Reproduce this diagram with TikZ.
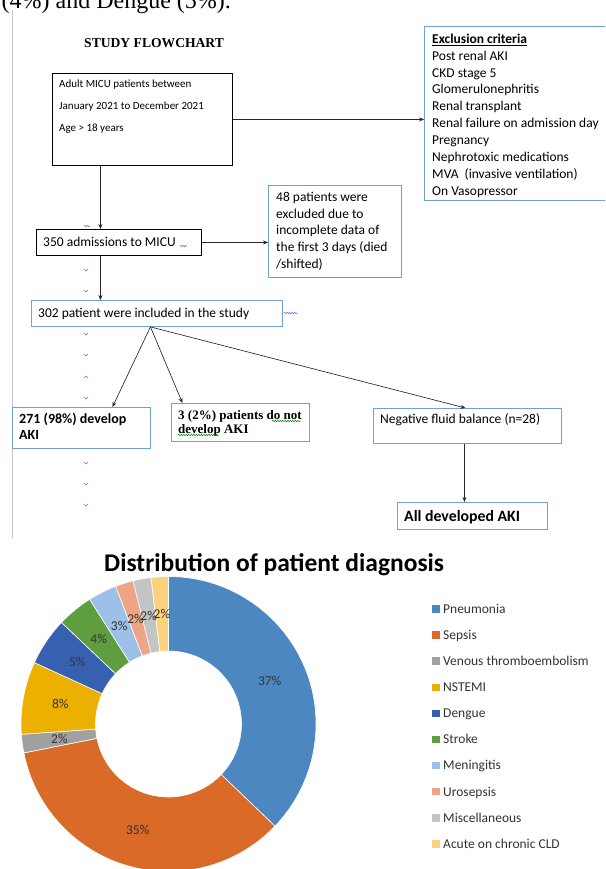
\documentclass[tikz,border=0pt]{standalone}
\usepackage{fontspec}
\setmainfont{Carlito}
\newfontfamily\tnr{Liberation Serif}
\usetikzlibrary{arrows.meta,decorations.pathmorphing}
\definecolor{boxblue}{HTML}{6FA0D8}
\definecolor{cPn}{HTML}{4D87C2}
\definecolor{cSe}{HTML}{D96A28}
\definecolor{cVt}{HTML}{A0A0A0}
\definecolor{cNs}{HTML}{EBB000}
\definecolor{cDe}{HTML}{3760B0}
\definecolor{cSt}{HTML}{5E9E3F}
\definecolor{cMe}{HTML}{9CC0E8}
\definecolor{cUr}{HTML}{F0A486}
\definecolor{cMi}{HTML}{C4C4C4}
\definecolor{cAc}{HTML}{FCD27E}
\definecolor{chartgray}{HTML}{333333}
\newcommand\fs[2]{\fontsize{#1}{#2}\selectfont}
\begin{document}
\begin{tikzpicture}[x=1pt,y=-1pt,
  bbox/.style={draw=black, line width=0.9pt, inner sep=0, anchor=north west},
  lbox/.style={draw=boxblue, line width=0.9pt, inner sep=0, anchor=north west},
  t/.style={anchor=base west, inner sep=0},
  conn/.style={-{Stealth[length=5pt,width=4pt]}, line width=0.65pt, draw=black!85},
  chev/.style={draw=blue!60, line width=0.6pt},
  sq/.style={decorate, decoration={snake, amplitude=0.7pt, segment length=2.5pt}, line width=0.5pt},
  lab/.style={font=\fs{13.5}{16}, text=chartgray, inner sep=0},
  legsq/.style={minimum width=7.5pt, minimum height=7.5pt, inner sep=0, anchor=west},
  legtx/.style={anchor=base west, inner sep=0, font=\fs{13.5}{16}, text=chartgray}]
\useasboundingbox (0,0) rectangle (605,869);
\clip (0,0) rectangle (605,869);
\fill[white] (0,0) rectangle (605,869);

% fragment of running text above
\node[t, font=\tnr\fs{24}{26}] (frag) at (1.5,9) {(4\%) and Dengue (5\%).};
% page margin line
\draw[gray!45, line width=0.8pt] (12,10) -- (12,538);

\node[t, font=\tnr\bfseries\fs{13.6}{16}] (title1) at (84,47.5) {STUDY FLOWCHART};

% boxes
\node[bbox, minimum width=180, minimum height=92] (box1) at (52,73) {};
\node[t, font=\fs{11}{13}] (b1a) at (59,87.5) {Adult MICU patients between};
\node[t, font=\fs{11}{13}] (b1b) at (59,109.5) {January 2021 to December 2021};
\node[t, font=\fs{11}{13}] (b1c) at (59,131.5) {Age > 18 years};

\node[lbox, minimum width=190, minimum height=174] (excl) at (424,26) {};
\node[t, font=\bfseries\fs{13.5}{16}] (e0) at (432,43.3) {\underline{Exclusion criteria}};
\foreach \i/\txt in {1/Post renal AKI,2/CKD stage 5,3/Glomerulonephritis,4/Renal transplant,5/Renal failure on admission day,6/Pregnancy,7/Nephrotoxic medications,8/MVA~ (invasive ventilation),9/On Vasopressor}
  \node[t, font=\fs{13.5}{16}] (e\i) at (432,43.3+16.9*\i) {\txt};

\node[lbox, minimum width=133, minimum height=92] (n48) at (268,185) {};
\node[t, font=\fs{13.5}{16}] (f0) at (276,201.3) {48 patients were};
\node[t, font=\fs{13.5}{16}] (f1) at (276,218.05) {excluded due to};
\node[t, font=\fs{13.5}{16}] (f2) at (276,234.8) {incomplete data of};
\node[t, font=\fs{13.5}{16}] (f3) at (276,251.55) {the first 3 days (died};
\node[t, font=\fs{13.5}{16}] (f4) at (276,268.3) {/shifted)};

\node[bbox, minimum width=165, minimum height=26] (n350) at (36,229) {};
\node[t, font=\fs{13.5}{16}] (t350) at (43,246.3) {350 admissions to MICU};

\node[lbox, minimum width=251, minimum height=26] (n302) at (31,300) {};
\node[t, font=\fs{13.5}{16}] (t302) at (38,317.3) {302 patient were included in the study};

\node[lbox, minimum width=138, minimum height=41] (n271) at (12,407) {};
\node[t, font=\bfseries\fs{14}{16}] (t271a) at (19,423.5) {271 (98\%) develop};
\node[t, font=\bfseries\fs{14}{16}] (t271b) at (19,439.5) {AKI};

\node[lbox, minimum width=138, minimum height=38] (n3) at (171,403) {};
\node[t, font=\tnr\bfseries\fs{13}{15}] (t3a) at (178,419.3) {3 (2\%) patients do not};
\node[t, font=\tnr\bfseries\fs{13}{15}] (t3b) at (178,433) {develop AKI};

\node[lbox, minimum width=188, minimum height=35] (neg) at (373,408) {};
\node[t, font=\fs{13.5}{16}] (tneg) at (380,423.3) {Negative fluid balance (n=28)};

\node[lbox, minimum width=150, minimum height=27] (all) at (397,502) {};
\node[t, font=\bfseries\fs{15.8}{18}] (tall) at (404,521) {All developed AKI};

% connectors
\draw[conn] (box1.east) -- (box1.east -| excl.west);
\draw[conn] ([xshift=-42]box1.south) -- ([xshift=-42]box1.south |- n350.north);
\draw[conn] (n350.east) -- (n350.east -| n48.west);
\draw[conn] ([xshift=-18.5]n350.south) -- ([xshift=-18.5]n350.south |- n302.north);
\coordinate (fork) at ([xshift=-6.5]n302.south);
\draw[conn] (fork) -- ([xshift=31]n271.north);
\draw[conn] (fork) -- ([xshift=-58]n3.north);
\draw[conn] (fork) -- ([xshift=-2]neg.north);
\draw[conn] ([xshift=-3]neg.south) -- ([xshift=-8]all.north);

% proofing marks
\foreach \y in {270,291,334,355,398,463,484,505}
  \draw[chev] (84,\y-1) -- (86,\y+1) -- (88,\y-1);
\draw[chev] (84,378) -- (86,376) -- (88,378);
\draw[chev, sq] (84,226) -- (90,226);
\draw[chev, sq] (180,246) -- (187,246);
\draw[chev, sq] (284,313) -- (298,313);
\draw[green!55!black, sq] (272,421) -- (301,421);
\draw[green!55!black, sq] (178,435) -- (219,435);

% chart title
\node[t, font=\bfseries\fs{25.5}{28}] (ctitle) at (104,571.5) {Distribution of patient diagnosis};

% donut
\begin{scope}[shift={(168.5,724)},yscale=-1]
\foreach \s/\e/\c in {0/133.8/cPn,133.8/258.7/cSe,258.7/266/cVt,266/294.6/cNs,294.6/313.5/cDe,313.5/327.7/cSt,327.7/339/cMe,339/346.1/cUr,346.1/353.2/cMi,353.2/360/cAc}{
  \fill[\c, draw=white, line width=0.6pt] ({90-\s}:147.5) arc[start angle={90-\s}, end angle={90-\e}, radius=147.5] -- ({90-\e}:73) arc[start angle={90-\e}, end angle={90-\s}, radius=73] -- cycle;
}
\foreach \s/\e/\p [count=\k] in {0/133.8/37,133.8/258.7/35,258.7/266/2,266/294.6/8,294.6/313.5/5,313.5/327.7/4,327.7/339/3,339/346.1/2,346.1/353.2/2,353.2/360/2}
  \node[lab] (lab\k) at ({90-(\s+\e)/2}:110) {\p\%};
\end{scope}

% legend
\foreach \c/\txt [count=\k from 0] in {cPn/Pneumonia,cSe/Sepsis,cVt/Venous thromboembolism,cNs/NSTEMI,cDe/Dengue,cSt/Stroke,cMe/Meningitis,cUr/Urosepsis,cMi/Miscellaneous,cAc/Acute on chronic CLD}{
  \node[legsq, fill=\c] (lq\k) at (432,609+26.1*\k) {};
  \node[legtx] (lt\k) at (443,613.3+26.1*\k) {\txt};
}
\end{tikzpicture}
\end{document}
